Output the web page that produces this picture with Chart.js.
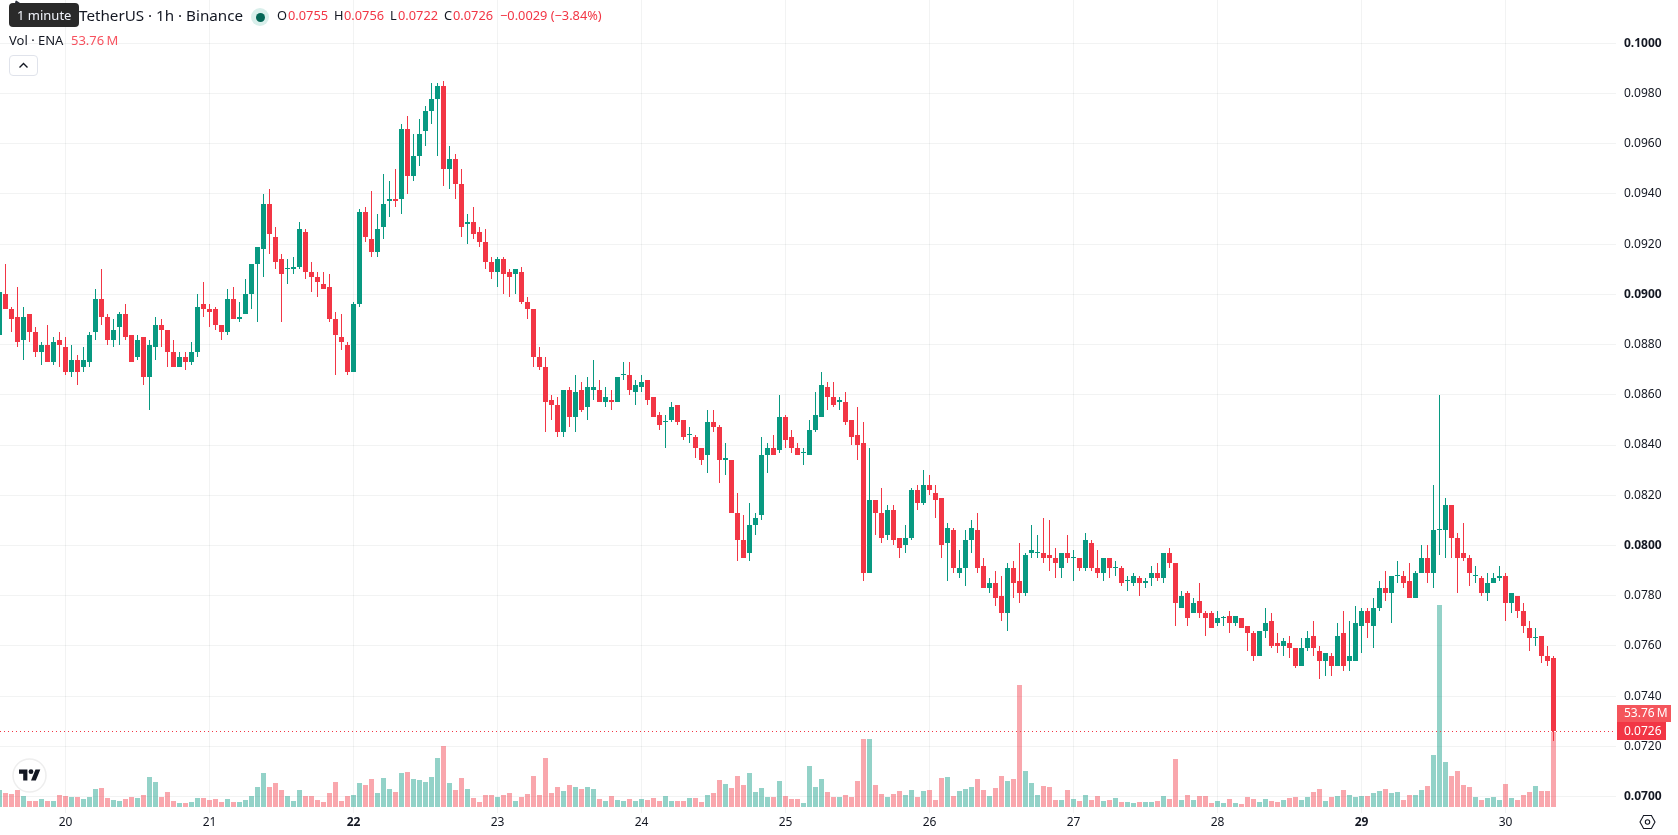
<!DOCTYPE html>
<html>
<head>
<meta charset="utf-8">
<title>ENA / TetherUS 1h</title>
<script src="https://cdn.jsdelivr.net/npm/chart.js@4"></script>
<style>
  html, body { margin: 0; padding: 0; background: #fff; width: 1678px; height: 835px; overflow: hidden; }
  body { position: relative; font-family: "Noto Sans", sans-serif; color: #131722; }
  canvas { position: absolute; left: 0; top: 0; }
  .t { position: absolute; white-space: nowrap; line-height: 1; }
  .red { color: #f23645; }
</style>
</head>
<body>
<canvas id="c" width="1678" height="835"></canvas>

<div class="t" style="left:79px;top:8px;font-size:15.2px;">TetherUS · 1h · Binance</div>
<div style="position:absolute;left:251px;top:8px;width:18px;height:18px;border-radius:50%;background:#d9efeb;"></div>
<div style="position:absolute;left:255.5px;top:12.5px;width:9px;height:9px;border-radius:50%;background:#056656;"></div>
<div class="t" style="left:277px;top:9px;font-size:12.8px;">O</div><div class="t red" style="left:288px;top:9px;font-size:12.8px;">0.0755</div>
<div class="t" style="left:334px;top:9px;font-size:12.8px;">H</div><div class="t red" style="left:344px;top:9px;font-size:12.8px;">0.0756</div>
<div class="t" style="left:390px;top:9px;font-size:12.8px;">L</div><div class="t red" style="left:398px;top:9px;font-size:12.8px;">0.0722</div>
<div class="t" style="left:444px;top:9px;font-size:12.8px;">C</div><div class="t red" style="left:453px;top:9px;font-size:12.8px;">0.0726</div>
<div class="t red" style="left:500px;top:9px;font-size:12.8px;">−0.0029 (−3.84%)</div>
<div class="t" style="left:9px;top:34px;font-size:13px;">Vol · ENA</div>
<div class="t" style="left:71px;top:34px;font-size:13px;color:#f7525f;">53.76&#8201;M</div>

<div style="position:absolute;left:9px;top:55px;width:29px;height:21px;border:1px solid #e0e3eb;border-radius:4px;box-sizing:border-box;background:#fff;"></div>
<svg style="position:absolute;left:18px;top:61px;" width="11" height="9" viewBox="0 0 11 9"><path d="M1.5 6.5 L5.5 2.5 L9.5 6.5" fill="none" stroke="#131722" stroke-width="1.4"/></svg>

<svg style="position:absolute;left:8px;top:0;" width="72" height="28" viewBox="0 0 72 28"><path d="M7 3 L7.5 1 Q8 0 9 1 L12 3 Z" fill="#2a2e39"/><rect x="1" y="3" width="70" height="24" rx="4" fill="#2a2a2a"/></svg>
<div class="t" style="left:17px;top:9px;font-size:13px;color:#f0f3fa;">1 minute</div>

<svg style="position:absolute;left:12px;top:758px;" width="35" height="35" viewBox="0 0 35 35">
  <circle cx="17.5" cy="17.5" r="16.5" fill="#fff" stroke="#eeeeee" stroke-width="1.5"/>
  <g transform="translate(7 9.2) scale(0.6)"><path d="M14 22H7V11H0V4h14v18zM28 22h-8l7.5-18h8L28 22z" fill="#131722"/><circle cx="20" cy="7.5" r="4" fill="#131722"/></g>
</svg>

<svg style="position:absolute;left:1639px;top:814px;" width="17" height="16" viewBox="0 0 17 16">
  <path d="M4.6 1.5 H12.4 L16 8 L12.4 14.5 H4.6 L1 8 Z" fill="none" stroke="#131722" stroke-width="1.1"/>
  <circle cx="8.5" cy="8" r="2.2" fill="none" stroke="#131722" stroke-width="1.1"/>
</svg>

<script>
// Hourly ENA/USDT candles, oldest first; the index in each array is the bar number.
const opens = [
0.0884,0.0900,0.0894,0.0891,0.0882,0.0892,0.0885,0.0877,0.0880,0.0873,
0.0882,0.0879,0.0869,0.0874,0.0871,0.0873,0.0885,0.0898,0.0891,0.0882,
0.0887,0.0892,0.0884,0.0875,0.0883,0.0867,0.0879,0.0888,0.0886,0.0877,
0.0871,0.0875,0.0873,0.0877,0.0896,0.0894,0.0894,0.0888,0.0885,0.0898,
0.0890,0.0892,0.0900,0.0912,0.0918,0.0936,0.0923,0.0914,0.0910,0.0910,
0.0911,0.0925,0.0909,0.0907,0.0904,0.0903,0.0890,0.0883,0.0880,0.0869,
0.0896,0.0933,0.0922,0.0917,0.0927,0.0937,0.0938,0.0938,0.0966,0.0947,
0.0955,0.0965,0.0973,0.0978,0.0983,0.0950,0.0954,0.0944,0.0928,0.0929,
0.0925,0.0921,0.0913,0.0909,0.0914,0.0909,0.0908,0.0909,0.0897,0.0894,
0.0875,0.0871,0.0858,0.0856,0.0845,0.0862,0.0851,0.0862,0.0855,0.0862,
0.0862,0.0857,0.0858,0.0857,0.0868,0.0868,0.0861,0.0863,0.0866,0.0859,
0.0852,0.0849,0.0850,0.0856,0.0850,0.0844,0.0843,0.0839,0.0836,0.0849,
0.0847,0.0834,0.0834,0.0813,0.0802,0.0797,0.0808,0.0812,0.0836,0.0839,
0.0838,0.0851,0.0843,0.0839,0.0837,0.0836,0.0846,0.0851,0.0863,0.0859,
0.0857,0.0857,0.0850,0.0844,0.0841,0.0789,0.0818,0.0813,0.0804,0.0814,
0.0803,0.0800,0.0803,0.0822,0.0817,0.0824,0.0821,0.0819,0.0801,0.0806,
0.0789,0.0791,0.0802,0.0806,0.0792,0.0783,0.0785,0.0780,0.0773,0.0791,
0.0786,0.0781,0.0797,0.0797,0.0797,0.0796,0.0795,0.0791,0.0797,0.0795,
0.0795,0.0791,0.0801,0.0791,0.0789,0.0795,0.0791,0.0791,0.0786,0.0785,
0.0787,0.0785,0.0787,0.0789,0.0787,0.0797,0.0793,0.0775,0.0781,0.0773,
0.0778,0.0773,0.0773,0.0769,0.0771,0.0772,0.0769,0.0771,0.0768,0.0765,
0.0756,0.0766,0.0770,0.0761,0.0760,0.0761,0.0759,0.0752,0.0759,0.0764,
0.0758,0.0754,0.0756,0.0752,0.0765,0.0754,0.0754,0.0768,0.0774,0.0768,
0.0775,0.0783,0.0781,0.0788,0.0788,0.0786,0.0779,0.0789,0.0795,0.0789,
0.0806,0.0806,0.0816,0.0803,0.0797,0.0795,0.0788,0.0787,0.0781,0.0785,
0.0787,0.0788,0.0777,0.0780,0.0774,0.0767,0.0763,0.0764,0.0756,0.0755];
const closes = [
0.0901,0.0894,0.0890,0.0881,0.0891,0.0885,0.0877,0.0880,0.0873,0.0881,
0.0880,0.0869,0.0874,0.0869,0.0874,0.0884,0.0898,0.0891,0.0882,0.0886,
0.0892,0.0883,0.0873,0.0882,0.0867,0.0880,0.0888,0.0886,0.0877,0.0871,
0.0875,0.0873,0.0877,0.0895,0.0894,0.0893,0.0888,0.0885,0.0898,0.0890,
0.0891,0.0900,0.0912,0.0919,0.0936,0.0924,0.0913,0.0908,0.0910,0.0911,
0.0926,0.0909,0.0907,0.0905,0.0902,0.0890,0.0884,0.0881,0.0869,0.0896,
0.0933,0.0923,0.0917,0.0926,0.0936,0.0938,0.0937,0.0966,0.0947,0.0955,
0.0964,0.0973,0.0978,0.0983,0.0950,0.0954,0.0944,0.0927,0.0929,0.0924,
0.0921,0.0913,0.0909,0.0914,0.0908,0.0907,0.0910,0.0897,0.0894,0.0875,
0.0871,0.0857,0.0856,0.0845,0.0862,0.0851,0.0861,0.0854,0.0863,0.0863,
0.0857,0.0859,0.0857,0.0867,0.0868,0.0862,0.0864,0.0865,0.0858,0.0851,
0.0848,0.0849,0.0855,0.0849,0.0843,0.0844,0.0839,0.0834,0.0849,0.0847,
0.0834,0.0835,0.0813,0.0802,0.0795,0.0808,0.0811,0.0836,0.0839,0.0836,
0.0851,0.0842,0.0839,0.0836,0.0837,0.0846,0.0852,0.0864,0.0859,0.0856,
0.0858,0.0849,0.0843,0.0840,0.0789,0.0818,0.0813,0.0803,0.0814,0.0802,
0.0799,0.0803,0.0822,0.0817,0.0824,0.0822,0.0818,0.0800,0.0807,0.0791,
0.0791,0.0802,0.0807,0.0791,0.0783,0.0785,0.0779,0.0773,0.0791,0.0785,
0.0781,0.0796,0.0798,0.0797,0.0795,0.0795,0.0793,0.0797,0.0795,0.0795,
0.0791,0.0802,0.0791,0.0789,0.0795,0.0791,0.0791,0.0785,0.0786,0.0788,
0.0785,0.0786,0.0789,0.0787,0.0797,0.0793,0.0777,0.0780,0.0771,0.0777,
0.0773,0.0771,0.0767,0.0771,0.0771,0.0769,0.0772,0.0767,0.0765,0.0756,
0.0766,0.0769,0.0760,0.0760,0.0762,0.0759,0.0752,0.0759,0.0763,0.0759,
0.0754,0.0757,0.0752,0.0764,0.0752,0.0756,0.0769,0.0774,0.0769,0.0775,
0.0783,0.0781,0.0788,0.0788,0.0785,0.0779,0.0789,0.0795,0.0789,0.0806,
0.0806,0.0816,0.0803,0.0795,0.0795,0.0789,0.0788,0.0781,0.0785,0.0787,
0.0788,0.0777,0.0781,0.0774,0.0768,0.0763,0.0763,0.0756,0.0754,0.0726];
const highs = [
0.0901,0.0912,0.0895,0.0903,0.0895,0.0892,0.0887,0.0881,0.0888,0.0883,
0.0885,0.0883,0.0880,0.0876,0.0879,0.0885,0.0902,0.0910,0.0892,0.0890,
0.0893,0.0896,0.0884,0.0884,0.0883,0.0882,0.0891,0.0890,0.0886,0.0882,
0.0877,0.0877,0.0881,0.0900,0.0905,0.0896,0.0895,0.0888,0.0902,0.0903,
0.0897,0.0906,0.0912,0.0919,0.0940,0.0942,0.0927,0.0916,0.0914,0.0915,
0.0929,0.0926,0.0913,0.0909,0.0909,0.0908,0.0893,0.0892,0.0881,0.0897,
0.0934,0.0935,0.0941,0.0932,0.0948,0.0945,0.0950,0.0968,0.0971,0.0964,
0.0970,0.0975,0.0984,0.0984,0.0985,0.0959,0.0956,0.0950,0.0932,0.0935,
0.0927,0.0926,0.0915,0.0915,0.0915,0.0910,0.0910,0.0911,0.0899,0.0894,
0.0879,0.0875,0.0860,0.0859,0.0862,0.0863,0.0868,0.0865,0.0867,0.0874,
0.0866,0.0863,0.0862,0.0867,0.0873,0.0873,0.0866,0.0868,0.0866,0.0859,
0.0853,0.0852,0.0857,0.0856,0.0850,0.0847,0.0844,0.0839,0.0854,0.0854,
0.0848,0.0841,0.0834,0.0821,0.0812,0.0817,0.0813,0.0843,0.0841,0.0844,
0.0860,0.0852,0.0846,0.0841,0.0839,0.0850,0.0861,0.0869,0.0865,0.0865,
0.0859,0.0861,0.0850,0.0855,0.0849,0.0839,0.0818,0.0823,0.0816,0.0816,
0.0803,0.0808,0.0823,0.0824,0.0830,0.0828,0.0824,0.0819,0.0809,0.0807,
0.0798,0.0806,0.0810,0.0813,0.0795,0.0787,0.0790,0.0788,0.0793,0.0794,
0.0801,0.0797,0.0808,0.0804,0.0811,0.0810,0.0799,0.0797,0.0804,0.0798,
0.0795,0.0805,0.0802,0.0798,0.0795,0.0795,0.0794,0.0792,0.0788,0.0789,
0.0788,0.0787,0.0792,0.0793,0.0797,0.0799,0.0793,0.0782,0.0782,0.0779,
0.0785,0.0774,0.0774,0.0774,0.0772,0.0774,0.0772,0.0771,0.0768,0.0766,
0.0766,0.0775,0.0773,0.0765,0.0763,0.0764,0.0759,0.0763,0.0766,0.0770,
0.0760,0.0757,0.0757,0.0769,0.0774,0.0770,0.0776,0.0775,0.0775,0.0779,
0.0786,0.0790,0.0788,0.0794,0.0790,0.0793,0.0790,0.0800,0.0800,0.0824,
0.0860,0.0819,0.0816,0.0805,0.0809,0.0796,0.0792,0.0788,0.0789,0.0789,
0.0792,0.0789,0.0781,0.0780,0.0777,0.0770,0.0767,0.0764,0.0760,0.0756];
const lows = [
0.0884,0.0894,0.0885,0.0879,0.0874,0.0881,0.0875,0.0872,0.0873,0.0872,
0.0871,0.0868,0.0867,0.0864,0.0869,0.0871,0.0882,0.0888,0.0880,0.0879,
0.0880,0.0882,0.0873,0.0874,0.0864,0.0854,0.0874,0.0879,0.0871,0.0871,
0.0871,0.0870,0.0872,0.0875,0.0891,0.0887,0.0886,0.0882,0.0884,0.0890,
0.0889,0.0892,0.0894,0.0889,0.0907,0.0916,0.0910,0.0889,0.0904,0.0908,
0.0910,0.0906,0.0901,0.0899,0.0902,0.0889,0.0868,0.0878,0.0868,0.0869,
0.0895,0.0921,0.0915,0.0915,0.0922,0.0931,0.0935,0.0932,0.0940,0.0945,
0.0951,0.0959,0.0968,0.0955,0.0943,0.0942,0.0938,0.0923,0.0920,0.0922,
0.0919,0.0910,0.0906,0.0903,0.0900,0.0899,0.0900,0.0896,0.0890,0.0871,
0.0870,0.0845,0.0850,0.0843,0.0843,0.0847,0.0845,0.0853,0.0850,0.0858,
0.0857,0.0855,0.0854,0.0857,0.0866,0.0860,0.0856,0.0861,0.0856,0.0851,
0.0846,0.0839,0.0849,0.0848,0.0842,0.0841,0.0835,0.0832,0.0829,0.0845,
0.0825,0.0828,0.0813,0.0794,0.0795,0.0794,0.0804,0.0810,0.0829,0.0836,
0.0837,0.0839,0.0837,0.0836,0.0832,0.0836,0.0845,0.0851,0.0854,0.0855,
0.0854,0.0848,0.0840,0.0834,0.0786,0.0789,0.0804,0.0801,0.0802,0.0800,
0.0795,0.0797,0.0802,0.0814,0.0816,0.0820,0.0811,0.0795,0.0786,0.0789,
0.0787,0.0784,0.0797,0.0789,0.0783,0.0781,0.0776,0.0770,0.0766,0.0779,
0.0777,0.0780,0.0795,0.0795,0.0793,0.0790,0.0787,0.0787,0.0793,0.0786,
0.0790,0.0790,0.0790,0.0787,0.0786,0.0787,0.0788,0.0784,0.0782,0.0784,
0.0780,0.0783,0.0784,0.0786,0.0785,0.0791,0.0768,0.0775,0.0768,0.0773,
0.0771,0.0764,0.0767,0.0768,0.0768,0.0765,0.0768,0.0767,0.0758,0.0754,
0.0756,0.0763,0.0759,0.0757,0.0756,0.0755,0.0751,0.0752,0.0758,0.0756,
0.0747,0.0748,0.0748,0.0752,0.0750,0.0750,0.0754,0.0757,0.0763,0.0759,
0.0774,0.0778,0.0769,0.0785,0.0783,0.0779,0.0779,0.0789,0.0785,0.0783,
0.0796,0.0795,0.0795,0.0781,0.0794,0.0784,0.0785,0.0780,0.0778,0.0785,
0.0786,0.0770,0.0773,0.0771,0.0765,0.0758,0.0760,0.0753,0.0752,0.0722];
// Traded volume per bar, in millions of ENA.
const volumes = [
12.2,10.0,9.3,12.2,7.9,4.3,4.3,5.7,4.3,4.3,
8.6,7.9,7.2,7.2,5.7,7.2,12.9,13.6,6.5,5.0,
4.3,5.7,7.2,6.5,8.6,21.5,17.9,7.2,10.8,4.3,
2.9,2.9,3.6,6.5,6.5,5.0,5.7,3.6,5.7,3.6,
3.6,5.0,7.9,14.3,24.4,14.3,17.2,12.2,7.9,4.3,
12.2,7.9,7.9,5.0,3.6,10.0,17.9,4.3,7.9,8.6,
17.2,15.8,20.1,10.0,20.8,12.9,10.8,24.4,25.1,20.1,
19.4,17.9,21.5,35.1,43.7,17.2,12.2,20.8,12.9,6.5,
3.6,8.6,8.6,7.2,8.6,10.0,4.3,7.2,9.3,22.2,
8.6,35.1,10.0,14.3,11.5,15.8,14.3,12.9,14.3,12.9,
5.7,4.3,7.9,5.0,4.3,5.7,4.3,5.7,5.0,6.5,
4.3,7.9,4.3,4.3,4.3,6.5,6.5,3.6,8.6,10.0,
19.4,16.5,13.6,22.2,15.8,24.4,10.8,13.6,7.2,7.2,
18.6,7.9,5.7,5.7,2.9,29.4,14.3,20.1,10.8,7.2,
7.2,8.6,7.2,18.6,48.7,48.7,15.8,9.3,7.2,9.3,
11.5,8.6,12.2,7.2,11.5,12.2,5.0,20.8,21.5,7.9,
11.5,12.9,14.3,20.1,12.2,7.9,13.6,22.2,18.6,20.1,
87.5,25.8,17.2,8.6,15.1,14.3,5.0,5.0,12.2,5.7,
4.3,8.6,5.0,7.9,4.3,5.0,6.5,3.6,3.6,2.9,
3.6,3.6,3.6,4.3,7.9,5.7,34.4,5.0,8.6,5.0,
7.9,7.9,2.9,4.3,2.9,5.7,2.9,2.2,7.2,5.7,
3.6,5.7,4.3,3.6,5.0,6.5,7.2,5.0,7.2,10.8,
12.9,4.3,7.2,7.9,12.2,8.6,7.2,7.9,7.9,10.0,
11.5,12.9,10.0,10.8,5.0,8.6,8.6,12.2,15.1,37.3,
144.8,32.3,22.2,25.8,15.8,14.3,7.2,5.0,6.5,7.2,
5.0,16.5,6.5,5.0,8.6,10.8,15.1,11.5,11.5,53.76];

// Price axis labels and the day marks along the time axis.
const priceTicks = [0.0700,0.0720,0.0740,0.0760,0.0780,0.0800,0.0820,0.0840,0.0860,0.0880,0.0900,0.0920,0.0940,0.0960,0.0980,0.1000];
const boldPrices = [0.0700,0.0800,0.0900,0.1000];
const dayBars = [11,35,59,83,107,131,155,179,203,227,251];
const dayLabels = ['20','21','22','23','24','25','26','27','28','29','30'];
const boldDays = ['22','29'];

const UP = '#089981', DOWN = '#f23645';
const UP_VOL = 'rgba(8,153,129,0.44)', DOWN_VOL = 'rgba(242,54,69,0.44)';
const GRID = 'rgba(42,46,57,0.06)';
const FONT = '"Noto Sans", sans-serif';

const lastIndex = closes.length - 1;
const lastClose = closes[lastIndex];
const isUp = i => closes[i] >= opens[i];
const bars = closes.map((_, i) => i);

// Snap bar edges to whole pixels so candle bodies stay crisp.
const crispBars = {
  id: 'crispBars',
  beforeDatasetsDraw(chart) {
    chart.getSortedVisibleDatasetMetas().forEach(meta => {
      meta.data.forEach(el => {
        el.y = Math.round(el.y);
        el.base = Math.round(el.base);
      });
    });
  }
};

// Dotted last-price line plus the volume and price tags on the axis.
const lastPrice = {
  id: 'lastPrice',
  afterDatasetsDraw(chart) {
    const { ctx, chartArea, scales } = chart;
    const y = Math.round(scales.y.getPixelForValue(lastClose)) + 0.5;
    ctx.save();
    ctx.strokeStyle = DOWN;
    ctx.lineWidth = 1;
    ctx.setLineDash([1, 3]);
    ctx.beginPath();
    ctx.moveTo(chartArea.left, y);
    ctx.lineTo(chartArea.right, y);
    ctx.stroke();
    ctx.setLineDash([]);
    ctx.restore();
  },
  afterDraw(chart) {
    const { ctx, chartArea, scales } = chart;
    const y = Math.round(scales.y.getPixelForValue(lastClose));
    const x = chartArea.right + 1;
    ctx.save();
    ctx.fillStyle = '#f4555c';
    ctx.fillRect(x, y - 26, 54, 17);
    ctx.fillStyle = DOWN;
    ctx.fillRect(x, y - 9, 49, 18);
    ctx.fillStyle = '#ffffff';
    ctx.font = '12px ' + FONT;
    ctx.textBaseline = 'middle';
    ctx.fillText(volumes[lastIndex].toFixed(2) + '\u2009M', x + 7, y - 17);
    ctx.fillText(lastClose.toFixed(4), x + 7, y + 1);
    ctx.restore();
  }
};

new Chart(document.getElementById('c'), {
  data: {
    datasets: [
      {
        type: 'bar', order: 1, yAxisID: 'y', grouped: false,
        barThickness: 5, minBarLength: 1, inflateAmount: 0, borderWidth: 0,
        backgroundColor: bars.map(i => isUp(i) ? UP : DOWN),
        data: bars.map(i => ({ x: i, y: [opens[i], closes[i]] }))
      },
      {
        type: 'bar', order: 2, yAxisID: 'y', grouped: false,
        barThickness: 1, inflateAmount: 0, borderWidth: 0,
        backgroundColor: bars.map(i => isUp(i) ? UP : DOWN),
        data: bars.map(i => ({ x: i, y: [lows[i], highs[i]] }))
      },
      {
        type: 'bar', order: 3, yAxisID: 'vol', grouped: false,
        barThickness: 5, inflateAmount: 0, borderWidth: 0,
        backgroundColor: bars.map(i => isUp(i) ? UP_VOL : DOWN_VOL),
        data: bars.map(i => ({ x: i, y: volumes[i] }))
      }
    ]
  },
  plugins: [crispBars, lastPrice],
  options: {
    responsive: false,
    animation: false,
    events: [],
    layout: { padding: 0 },
    plugins: { legend: { display: false }, tooltip: { enabled: false } },
    scales: {
      x: {
        type: 'linear', min: 0.0833, max: 269.4167, offset: false,
        grid: { color: GRID, drawTicks: false, lineWidth: 1, offset: false },
        border: { display: false },
        afterBuildTicks(scale) { scale.ticks = dayBars.map(value => ({ value })); },
        afterFit(scale) {
          scale.height = 22;
          scale.paddingLeft = scale.paddingRight = 0;
        },
        ticks: {
          autoSkip: false, maxRotation: 0, padding: 2, color: '#131722',
          callback(value) { return dayLabels[dayBars.indexOf(value)]; },
          font(ctx) {
            const label = dayLabels[ctx.index];
            return { family: FONT, size: 12, weight: boldDays.includes(label) ? '700' : '400' };
          }
        }
      },
      y: {
        type: 'linear', position: 'right', min: 0.069343, max: 0.101725,
        grid: { color: GRID, drawTicks: false, lineWidth: 1 },
        border: { display: false },
        afterBuildTicks(scale) { scale.ticks = priceTicks.map(value => ({ value })); },
        afterFit(scale) {
          scale.width = 62;
          scale.paddingTop = scale.paddingBottom = 0;
        },
        ticks: {
          autoSkip: false, padding: 8, color: '#131722', align: 'center', crossAlign: 'near',
          callback(value) { return value.toFixed(4); },
          font(ctx) {
            const v = priceTicks[ctx.index];
            return { family: FONT, size: 12, weight: boldPrices.includes(v) ? '700' : '400' };
          }
        }
      },
      vol: {
        type: 'linear', display: false, min: -4.3008, max: 578.46
      }
    }
  }
});
</script>
</body>
</html>
